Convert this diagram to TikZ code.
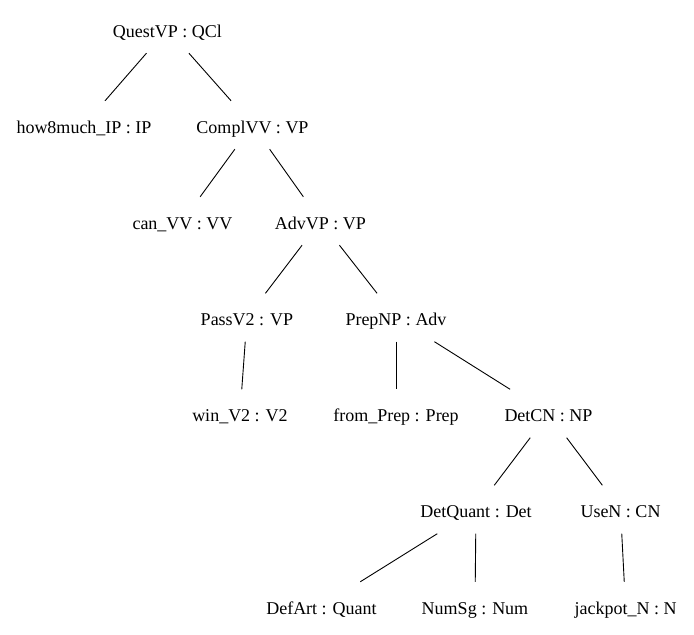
\documentclass[tikz,border=0pt]{standalone}
\usepackage{fontspec}
\setmainfont{Liberation Serif}
\newfontfamily\tnrfont{Liberation Serif}
\begin{document}
\begin{tikzpicture}[x=1pt,y=-1pt,
  lbl/.style={rectangle, inner xsep=4pt, inner ysep=0pt, minimum height=48pt,
    text height=20pt, text depth=4pt, font=\tnrfont\fontsize{18}{21}\selectfont},
  edge/.style={draw=black, line width=0.9pt}]
\useasboundingbox[fill=white] (0,0) rectangle (694,635);
\node[lbl] (q)   at (167.5,29)  {QuestVP : QCl};
\node[lbl] (h)   at (84,125)    {how8much\_IP : IP};
\node[lbl] (c)   at (252.5,125) {ComplVV : VP};
\node[lbl] (cv)  at (182.5,221) {can\_VV : VV};
\node[lbl] (a)   at (320.5,221) {AdvVP : VP};
\node[lbl] (p)   at (247,317.5) {PassV2 : VP};
\node[lbl] (pn)  at (396,317.5) {PrepNP : Adv};
\node[lbl] (w)   at (240,413.5) {win\_V2 : V2};
\node[lbl] (f)   at (396,413.5) {from\_Prep : Prep};
\node[lbl] (d)   at (548.5,413.5) {DetCN : NP};
\node[lbl] (dq)  at (476,509.5) {DetQuant : Det};
\node[lbl] (u)   at (620.5,509.5) {UseN : CN};
\node[lbl] (da)  at (321.5,606) {DefArt : Quant};
\node[lbl] (n)   at (475,606)   {NumSg : Num};
\node[lbl] (j)   at (625.5,606) {jackpot\_N : N};
\draw[edge] (q) -- (h);
\draw[edge] (q) -- (c);
\draw[edge] (c) -- (cv);
\draw[edge] (c) -- (a);
\draw[edge] (a) -- (p);
\draw[edge] (a) -- (pn);
\draw[edge] (p) -- (w);
\draw[edge] (pn) -- (f);
\draw[edge] (pn) -- (d);
\draw[edge] (d) -- (dq);
\draw[edge] (d) -- (u);
\draw[edge] (dq) -- (da);
\draw[edge] (dq) -- (n);
\draw[edge] (u) -- (j);
\end{tikzpicture}
\end{document}
